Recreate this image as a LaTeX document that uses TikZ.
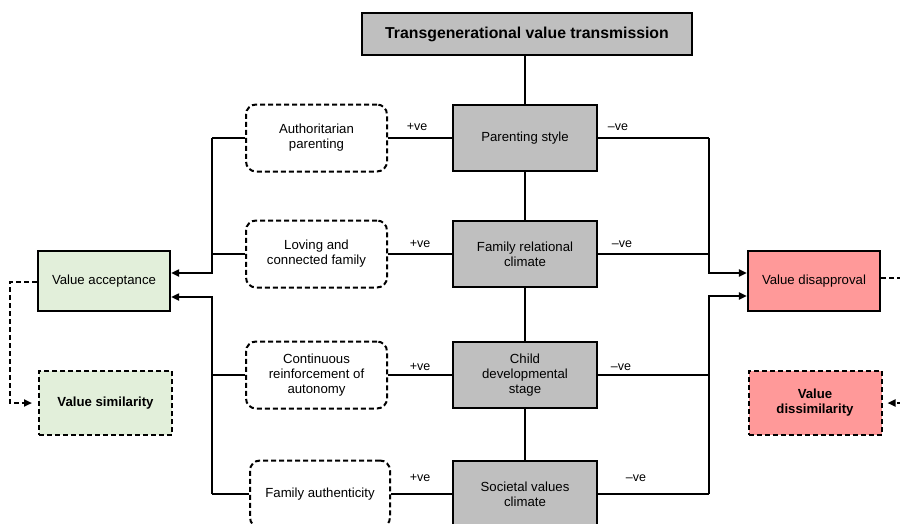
\documentclass[tikz,border=0pt]{standalone}
\usepackage{fontspec}
\setmainfont{Liberation Sans}
\usetikzlibrary{arrows.meta,calc}
\definecolor{boxgray}{HTML}{BFBFBF}
\definecolor{accgreen}{HTML}{E2EFDA}
\definecolor{dispink}{HTML}{FF9999}
\begin{document}
\begin{tikzpicture}[x=1pt,y=-1pt,
 txt/.style={font=\fontsize{13.2}{15}\selectfont, align=center, text=black, inner sep=2pt},
 graybox/.style={txt, draw=black, line width=2.3pt, fill=boxgray, minimum width=144pt, minimum height=66pt},
 dbox/.style={txt, draw=black, dash pattern=on 5pt off 3pt, line width=2pt, rounded corners=10pt, minimum width=141pt, minimum height=67pt},
 outbox/.style={txt, draw=black, line width=2.3pt, minimum width=132pt, minimum height=60pt},
 outdbox/.style={txt, font=\fontsize{13.2}{15}\selectfont\bfseries, draw=black, dash pattern=on 5pt off 3pt, line width=2pt, minimum width=133pt, minimum height=64pt},
 conn/.style={line width=2.8pt},
 thinc/.style={line width=2pt},
 dconn/.style={line width=2pt, dash pattern=on 5pt off 3pt},
 arr/.style={-{Triangle[length=8pt,width=7pt]}},
 lbl/.style={font=\fontsize{12.5}{14}\selectfont, inner sep=0pt},
]
\useasboundingbox (0,0) rectangle (900,523);
\clip (0,0) rectangle (900,523);

% title
\node[graybox, font=\fontsize{15.8}{18}\selectfont\bfseries, minimum width=330pt, minimum height=42pt] (title) at (527,34) {Transgenerational value transmission};

% central boxes
\node[graybox] (par) at (525,138) {Parenting style};
\node[graybox] (fam) at (525,254) {Family relational\\climate};
\node[graybox] (chi) at (525,375) {Child\\developmental\\stage};
\node[graybox] (soc) at (525,494) {Societal values\\climate};

% dashed rounded boxes
\node[dbox] (auth) at (316.5,138) {Authoritarian\\parenting};
\node[dbox] (lov) at (316.5,254) {Loving and\\connected family};
\node[dbox] (cont) at (316.5,375) {Continuous\\reinforcement of\\autonomy};
\node[dbox, minimum width=140pt] (fauth) at (320,494) {Family authenticity};

% outcome boxes
\node[outbox, fill=accgreen] (acc) at (104,281) {Value acceptance};
\node[outdbox, fill=accgreen] (sim) at (105.5,403) {Value similarity};
\node[outbox, fill=dispink] (dis) at (814,281) {Value disapproval};
\node[outdbox, fill=dispink] (dissim) at (815,403) {Value\\dissimilarity};

% central spine
\draw[conn] (par.north |- title.south) -- (par.north);
\draw[conn] (par.south) -- (fam.north);
\draw[conn] (fam.south) -- (chi.north);
\draw[conn] (chi.south) -- (soc.north);

% +ve links
\draw[conn] (auth.east) -- (par.west);
\draw[conn] (lov.east) -- (fam.west);
\draw[conn] (cont.east) -- (chi.west);
\draw[conn] (fauth.east) -- (soc.west);
\node[lbl] (p1) at (417,127) {+ve};
\node[lbl] (p2) at (420,244) {+ve};
\node[lbl] (p3) at (420,367) {+ve};
\node[lbl] (p4) at (420,478) {+ve};

% -ve links
\coordinate (rx) at (709,0);
\draw[conn] (par.east) -- (par.east -| rx);
\draw[conn] (fam.east) -- (fam.east -| rx);
\draw[conn] (chi.east) -- (chi.east -| rx);
\draw[conn] (soc.east) -- (soc.east -| rx);
\node[lbl] (n1) at (618,127) {–ve};
\node[lbl] (n2) at (622,244) {–ve};
\node[lbl] (n3) at (621,367) {–ve};
\node[lbl] (n4) at (636,478) {–ve};

\coordinate (disup) at ([yshift=8pt]dis.west);
\coordinate (dislo) at ([yshift=-15pt]dis.west);
\draw[thinc, arr] (par.east -| rx) -- (rx |- disup) -- (disup);
\draw[thinc, arr] (soc.east -| rx) -- (rx |- dislo) -- (dislo);

% left bracket
\coordinate (lx) at (212,0);
\coordinate (accup) at ([yshift=8pt]acc.east);
\coordinate (acclo) at ([yshift=-16pt]acc.east);
\draw[thinc] (auth.west) -- (auth.west -| lx);
\draw[conn] (lov.west) -- (lov.west -| lx);
\draw[conn] (cont.west) -- (cont.west -| lx);
\draw[thinc] (fauth.west) -- (fauth.west -| lx);
\draw[thinc, arr] (auth.west -| lx) -- (lx |- accup) -- (accup);
\draw[thinc, arr] (fauth.west -| lx) -- (lx |- acclo) -- (acclo);

% dashed feedback
\coordinate (accout) at ([yshift=-1pt]acc.west);
\draw[dconn, arr, shorten >=6pt] (accout) -- ++(-27,0) |- (sim.west);
\coordinate (disout) at ([yshift=3pt]dis.east);
\draw[dconn, arr, shorten >=5pt] (disout) -- ++(40,0) |- (dissim.east);
\end{tikzpicture}
\end{document}
